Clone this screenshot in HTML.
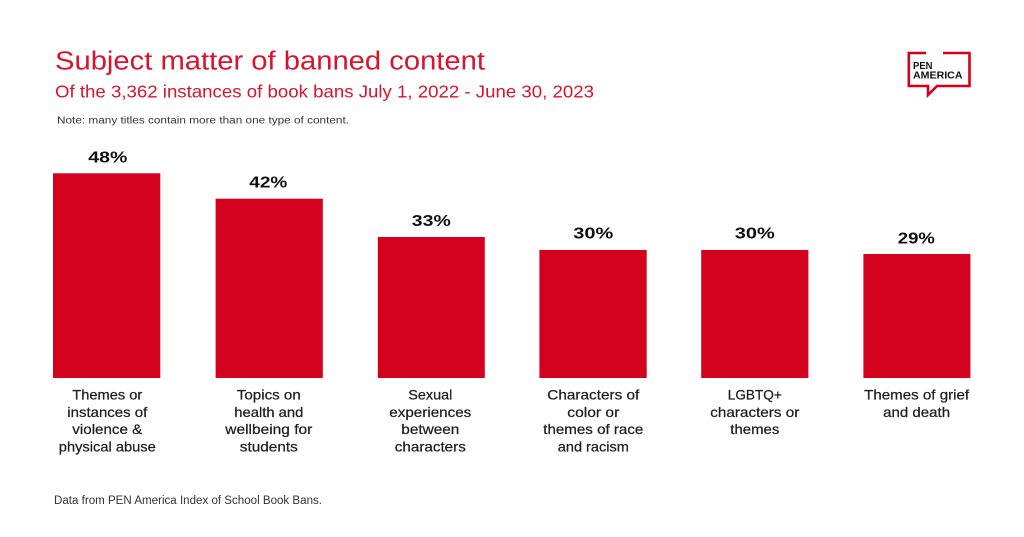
<!DOCTYPE html>
<html>
<head>
<meta charset="utf-8">
<style>
  html,body{margin:0;padding:0;background:#fff;}
  svg{display:block;}
  .t{font-family:"Liberation Sans",sans-serif;}
</style>
</head>
<body>
<svg width="1024" height="537" viewBox="0 0 1024 537" xmlns="http://www.w3.org/2000/svg">
  <rect width="1024" height="537" fill="#ffffff"/>

  <!-- Titles -->
  <text class="t" x="55" y="69.5" font-size="25.5" fill="#d7142c" textLength="430" lengthAdjust="spacingAndGlyphs">Subject matter of banned content</text>
  <text class="t" x="55" y="97.5" font-size="17.5" fill="#d7142c" textLength="539" lengthAdjust="spacingAndGlyphs">Of the 3,362 instances of book bans July 1, 2022 - June 30, 2023</text>
  <text class="t" x="57" y="123.5" font-size="10" fill="#333333" textLength="292" lengthAdjust="spacingAndGlyphs">Note: many titles contain more than one type of content.</text>

  <!-- Logo -->
  <polyline points="926,53 908.8,53 908.8,86 928,86 928,95 937,86 969.5,86 969.5,53 943,53" fill="none" stroke="#d3001c" stroke-width="2.6" stroke-linejoin="miter"/>
  <text class="t" x="913" y="69" font-size="10" font-weight="bold" fill="#111" textLength="19.5" lengthAdjust="spacingAndGlyphs">PEN</text>
  <text class="t" x="913" y="78.5" font-size="10" font-weight="bold" fill="#111" textLength="49.5" lengthAdjust="spacingAndGlyphs">AMERICA</text>

  <!-- Bars -->
  <g fill="#d3001e">
    <rect x="53" y="173.3" width="107.3" height="204.7"/>
    <rect x="215.6" y="198.7" width="107.2" height="179.3"/>
    <rect x="377.8" y="237" width="107" height="141"/>
    <rect x="539.4" y="250" width="107.3" height="128"/>
    <rect x="701.2" y="250" width="107.2" height="128"/>
    <rect x="863.4" y="254" width="107" height="124"/>
  </g>

  <!-- Percent labels -->
  <g class="t" font-size="16" font-weight="bold" fill="#111" text-anchor="middle">
    <text x="107.8" y="162.5" textLength="39" lengthAdjust="spacingAndGlyphs">48%</text>
    <text x="268.3" y="187.5" textLength="38" lengthAdjust="spacingAndGlyphs">42%</text>
    <text x="431.3" y="226" textLength="39" lengthAdjust="spacingAndGlyphs">33%</text>
    <text x="593.3" y="238.5" textLength="40" lengthAdjust="spacingAndGlyphs">30%</text>
    <text x="754.8" y="238.5" textLength="40" lengthAdjust="spacingAndGlyphs">30%</text>
    <text x="916.3" y="243.5" textLength="37" lengthAdjust="spacingAndGlyphs">29%</text>
  </g>

  <!-- Category labels -->
  <g class="t" font-size="14" fill="#1e1e1e" text-anchor="middle" stroke="#1e1e1e" stroke-width="0.25">
    <text x="107.3" y="399.5" textLength="70" lengthAdjust="spacingAndGlyphs">Themes or</text>
    <text x="107.3" y="416.8" textLength="80" lengthAdjust="spacingAndGlyphs">instances of</text>
    <text x="107.3" y="434.1" textLength="70" lengthAdjust="spacingAndGlyphs">violence &amp;</text>
    <text x="107.3" y="451.4" textLength="97" lengthAdjust="spacingAndGlyphs">physical abuse</text>

    <text x="268.8" y="399.5" textLength="64" lengthAdjust="spacingAndGlyphs">Topics on</text>
    <text x="268.8" y="416.8" textLength="69" lengthAdjust="spacingAndGlyphs">health and</text>
    <text x="268.8" y="434.1" textLength="87" lengthAdjust="spacingAndGlyphs">wellbeing for</text>
    <text x="268.8" y="451.4" textLength="58" lengthAdjust="spacingAndGlyphs">students</text>

    <text x="430.3" y="399.5" textLength="44" lengthAdjust="spacingAndGlyphs">Sexual</text>
    <text x="430.3" y="416.8" textLength="82" lengthAdjust="spacingAndGlyphs">experiences</text>
    <text x="430.3" y="434.1" textLength="58" lengthAdjust="spacingAndGlyphs">between</text>
    <text x="430.3" y="451.4" textLength="71" lengthAdjust="spacingAndGlyphs">characters</text>

    <text x="593.3" y="399.5" textLength="92" lengthAdjust="spacingAndGlyphs">Characters of</text>
    <text x="593.3" y="416.8" textLength="52" lengthAdjust="spacingAndGlyphs">color or</text>
    <text x="593.3" y="434.1" textLength="100" lengthAdjust="spacingAndGlyphs">themes of race</text>
    <text x="593.3" y="451.4" textLength="71" lengthAdjust="spacingAndGlyphs">and racism</text>

    <text x="754.8" y="399.5" textLength="54" lengthAdjust="spacingAndGlyphs">LGBTQ+</text>
    <text x="754.8" y="416.8" textLength="89" lengthAdjust="spacingAndGlyphs">characters or</text>
    <text x="754.8" y="434.1" textLength="49" lengthAdjust="spacingAndGlyphs">themes</text>

    <text x="916.6" y="399.5" textLength="105" lengthAdjust="spacingAndGlyphs">Themes of grief</text>
    <text x="916.6" y="416.8" textLength="67" lengthAdjust="spacingAndGlyphs">and death</text>
  </g>

  <!-- Footnote -->
  <text class="t" x="54" y="504" font-size="11.5" fill="#333333" textLength="268" lengthAdjust="spacingAndGlyphs">Data from PEN America Index of School Book Bans.</text>
</svg>
</body>
</html>
